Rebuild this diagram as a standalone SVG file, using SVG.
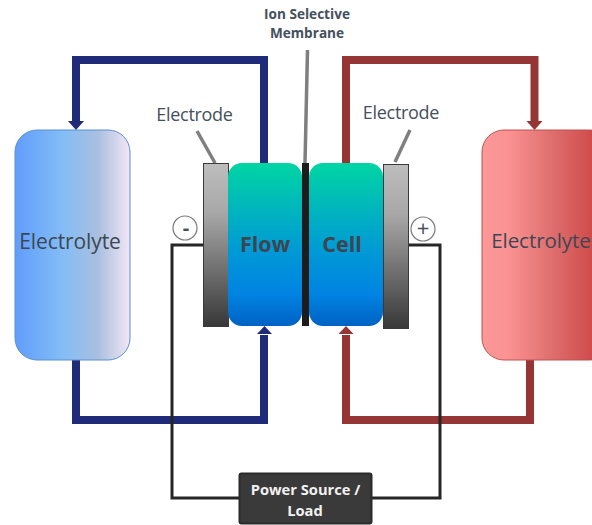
<svg xmlns="http://www.w3.org/2000/svg" width="592" height="525" viewBox="0 0 592 525">
<style>
text{font-family:"Open Sans","Noto Sans","Liberation Sans",sans-serif;text-anchor:middle;fill:#44505e}
.lbl{font-size:18px;letter-spacing:-.3px}
.big{font-size:21px;letter-spacing:-.1px;fill:#3d4754}
.bold{font-size:21.500px;font-weight:700;fill:#3d4650}
.cap{font-size:13.600px;font-weight:700;fill:#44505e}
.pw{font-size:14.700px;font-weight:700;fill:#f2f2f2}
.blue{fill:none;stroke:#1f2a78;stroke-width:8}
.red{fill:none;stroke:#953535;stroke-width:8}
.wire{fill:none;stroke:#262626;stroke-width:3}
.lead{fill:none;stroke:#7f7f7f;stroke-width:3.500}
.el{stroke:#3a3a3a;stroke-width:1}
.cell{fill:url(#cellG)}
.sign{fill:#fff;stroke:#7a7a7a;stroke-width:1.200}
</style>
<defs>
<linearGradient id="tankB" x1="0" x2="1" y1="0" y2="0"><stop offset="0" stop-color="#609dfb"/><stop offset=".42" stop-color="#84bdf6"/><stop offset=".72" stop-color="#a9bfdf"/><stop offset="1" stop-color="#f2e6f5"/></linearGradient>
<linearGradient id="tankR" x1="0" x2="1" y1="0" y2="0"><stop offset="0" stop-color="#fb9898"/><stop offset=".2" stop-color="#fb9292"/><stop offset=".55" stop-color="#de6d6d"/><stop offset="1" stop-color="#c93a3a"/></linearGradient>
<linearGradient id="cellG" x1="0" x2="0" y1="0" y2="1"><stop offset="0" stop-color="#00d5a3"/><stop offset=".55" stop-color="#0098d6"/><stop offset=".8" stop-color="#0084e2"/><stop offset="1" stop-color="#0062c4"/></linearGradient>
<linearGradient id="elG" x1="0" x2="0" y1="0" y2="1"><stop offset="0" stop-color="#bdbdbd"/><stop offset=".3" stop-color="#a8a8a8"/><stop offset="1" stop-color="#383838"/></linearGradient>
</defs>
<g id="connectors">
<path class="lead" d="M197 131L215 163"/>
<path class="lead" d="M410 130L395 162"/>
<path class="lead" d="M307.500 50L305 163"/>
<path class="blue" d="M264 163V60H76V122"/>
<path d="M68 121H84L76 130Z" fill="#1f2a78"/>
<path class="red" d="M346 163V60H534.500V122"/>
<path d="M526.500 121H542.500L534.500 130Z" fill="#953535"/>
<path class="blue" d="M76 360V420H264V335"/>
<path d="M257 334H272L264.500 326Z" fill="#1f2a78"/>
<path class="red" d="M530 360V420H346V335"/>
<path d="M338.500 334H353.500L346 326Z" fill="#953535"/>
<path class="wire" d="M203 245H172V498H239"/>
<path class="wire" d="M408 245H440V498H371"/>
</g>
<g id="tank-left"><rect x="15" y="130" width="115" height="230" rx="22" fill="url(#tankB)" stroke="#5a8fd0"/><text class="big" x="70" y="249">Electrolyte</text></g>
<g id="tank-right"><rect x="482" y="130" width="130" height="230" rx="22" fill="url(#tankR)" stroke="#c05050"/><text class="big" x="541" y="248" style="font-size:20.600px">Electrolyte</text></g>
<g id="electrode-left"><rect class="el" x="203.500" y="163.500" width="25" height="163" fill="url(#elG)"/></g>
<g id="electrode-right"><rect class="el" x="383.500" y="164.500" width="25" height="164" fill="url(#elG)"/></g>
<g id="membrane"><rect x="302" y="163" width="7" height="163" fill="#1c1c1c"/></g>
<g id="cell-left"><rect class="cell" x="228" y="163" width="74" height="163" rx="14"/><text class="bold" x="265" y="252">Flow</text></g>
<g id="cell-right"><rect class="cell" x="309" y="163" width="74" height="163" rx="14"/><text class="bold" x="342" y="252">Cell</text></g>
<g id="label-electrode-left"><text class="lbl" x="194.500" y="121">Electrode</text></g>
<g id="label-electrode-right"><text class="lbl" x="401" y="119">Electrode</text></g>
<g id="label-membrane"><text class="cap" x="307" y="19">Ion Selective</text><text class="cap" x="307" y="38">Membrane</text></g>
<g id="terminal-minus"><circle class="sign" cx="185" cy="228" r="12"/><text x="186" y="235" font-size="20" font-weight="700">-</text></g>
<g id="terminal-plus"><circle class="sign" cx="423" cy="229" r="12"/><text x="423" y="236" font-size="22">+</text></g>
<g id="power"><rect x="239.500" y="473.500" width="132" height="50" rx="2" fill="#3a3a3a" stroke="#2a2a2a" stroke-width="2"/><text class="pw" x="305.500" y="495">Power Source /</text><text class="pw" x="305" y="516">Load</text></g>
</svg>
